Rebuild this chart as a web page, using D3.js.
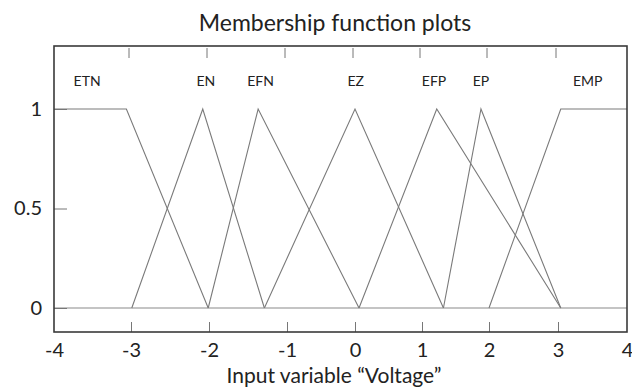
<!DOCTYPE html>
<html>
<head>
<meta charset="utf-8">
<script src="https://cdn.jsdelivr.net/npm/d3@7"></script>
<style>
  body { margin: 0; background: #fff; }
  svg { display: block; font-family: Lato, "Open Sans", sans-serif; }
</style>
</head>
<body>
<div id="chart"></div>
<script>
// valores
const xTickValues = [-4, -3, -2, -1, 0, 1, 2, 3, 4];
const yTickValues = [0, 0.5, 1];
const yTickLabels = ["0", "0.5", "1"];

const mfNames = ["ETN", "EN", "EFN", "EZ", "EFP", "EP", "EMP"];
const mfLabelX = [-3.57, -2.04, -1.34, 0.01, 1.18, 1.88, 3.43];

const etn = [[-4, 1], [-3.06, 1], [-2.01, 0]];
const en  = [[-2.99, 0], [-2.08, 1], [-1.29, 0]];
const efn = [[-2.01, 0], [-1.37, 1], [0.06, 0]];
const ez  = [[-1.29, 0], [0, 1], [1.32, 0]];
const efp = [[0.06, 0], [1.22, 1], [3.04, 0]];
const ep  = [[1.32, 0], [1.88, 1], [3.04, 0]];
const emp = [[2, 0], [3.04, 1], [4, 1]];
const mfPoints = [etn, en, efn, ez, efp, ep, emp];

const width = 632, height = 387;
const box = { left: 54, right: 627, top: 46, bottom: 332 };
const font = "Lato, sans-serif";

const svg = d3.select("#chart").append("svg")
    .attr("width", width)
    .attr("height", height);

// eixo x da figura não é uniforme: escala por partes
const x = d3.scaleLinear()
    .domain(xTickValues)
    .range([54, 131, 209, 287, 355, 422, 489, 558, 627]);

const y = d3.scaleLinear()
    .domain([0, 1])
    .range([308, 109]);

// linha do zero
svg.append("line")
    .attr("x1", box.left).attr("x2", box.right)
    .attr("y1", y(0)).attr("y2", y(0))
    .attr("stroke", "#8a8a8a")
    .attr("stroke-width", 1.2);

// funções de pertinência
const line = d3.line().x(d => x(d[0])).y(d => y(d[1]));
svg.append("g")
    .selectAll("path")
    .data(mfPoints)
    .join("path")
    .attr("d", line)
    .attr("fill", "none")
    .attr("stroke", "#7a7a7a")
    .attr("stroke-width", 1.1);

// eixo de baixo
const bottomAxis = svg.append("g")
    .attr("transform", `translate(0,${box.bottom})`)
    .call(d3.axisBottom(x).tickValues(xTickValues).tickSize(-10).tickFormat(d3.format("d")));
bottomAxis.select(".domain").remove();
bottomAxis.selectAll(".tick line").attr("stroke", "#777");
bottomAxis.selectAll(".tick")
    .filter(d => d === -4 || d === 4)
    .select("line").remove();
bottomAxis.selectAll(".tick text")
    .attr("y", 11)
    .attr("font-size", 20)
    .attr("font-family", font)
    .attr("fill", "#222")
    .text(d => d < 0 ? "-" + Math.abs(d) : d);

// ticks de cima (sem rótulos)
const topAxis = svg.append("g")
    .attr("transform", `translate(-2.5,${box.top})`)
    .call(d3.axisTop(x).tickValues(xTickValues.slice(1, -1)).tickSize(-12).tickFormat(""));
topAxis.select(".domain").remove();
topAxis.selectAll(".tick line").attr("y1", 2).attr("stroke", "#777");

// eixo y
const leftAxis = svg.append("g")
    .attr("transform", `translate(${box.left},0)`)
    .call(d3.axisLeft(y).tickValues(yTickValues).tickSize(-13)
        .tickFormat((d, i) => yTickLabels[i]));
leftAxis.select(".domain").remove();
leftAxis.selectAll(".tick line").attr("stroke", "#777");
leftAxis.selectAll(".tick text")
    .attr("x", -12)
    .attr("font-size", 20)
    .attr("font-family", font)
    .attr("fill", "#222");

// moldura
svg.append("rect")
    .attr("x", box.left).attr("y", box.top)
    .attr("width", box.right - box.left)
    .attr("height", box.bottom - box.top)
    .attr("fill", "none")
    .attr("stroke", "#3a3a3a")
    .attr("stroke-width", 1.6);

// nomes das funções
svg.append("g")
    .selectAll("text")
    .data(mfNames)
    .join("text")
    .attr("x", (d, i) => x(mfLabelX[i]))
    .attr("y", 86)
    .attr("text-anchor", "middle")
    .attr("font-size", 14)
    .attr("fill", "#222")
    .text(d => d);

// títulos
svg.append("text")
    .attr("x", 335).attr("y", 31)
    .attr("text-anchor", "middle")
    .attr("font-size", 23)
    .attr("fill", "#222")
    .text("Membership function plots");

svg.append("text")
    .attr("x", 334).attr("y", 382.5)
    .attr("text-anchor", "middle")
    .attr("font-size", 21)
    .attr("fill", "#222")
    .text("Input variable \u201cVoltage\u201d");
</script>
</body>
</html>
